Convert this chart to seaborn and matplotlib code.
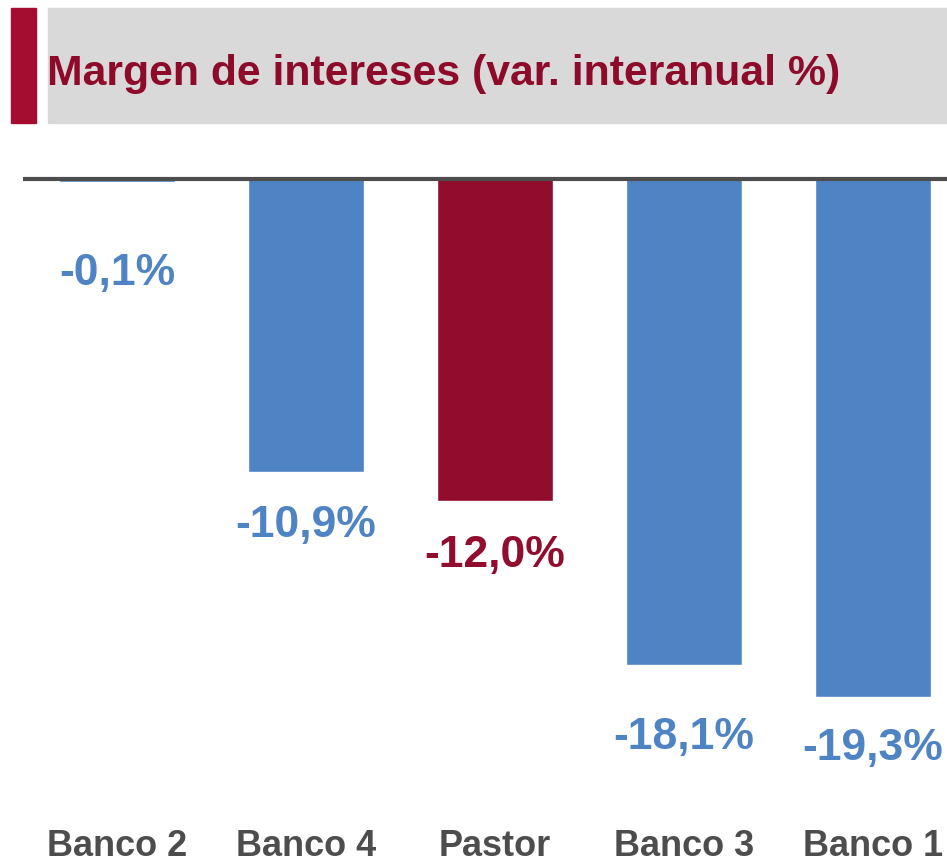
"""Margen de intereses (var. interanual %) - bar chart hanging from zero."""
import matplotlib
matplotlib.use('Agg')
import matplotlib.pyplot as plt
from matplotlib.patches import Rectangle
import seaborn as sns

# %%
# data
bancos = ['Banco 2', 'Banco 4', 'Pastor', 'Banco 3', 'Banco 1']
variacion = [-0.1, -10.9, -12.0, -18.1, -19.3]
etiquetas = ['-0,1%', '-10,9%', '-12,0%', '-18,1%', '-19,3%']

azul = '#4F84C4'
granate = '#920C2D'
colores = [granate if b == 'Pastor' else azul for b in bancos]
# distance of each value label below its bar end (points)
desfase = [66, 39, 39, 52, 37]

# %%
sns.set_style('white')
plt.rcParams['font.family'] = ['Liberation Sans', 'DejaVu Sans']

W, H = 947, 864
fig = plt.figure(figsize=(W / 100, H / 100), dpi=100)

# title band
fig.patches.append(Rectangle((11 / W, 1 - 123 / H), 25 / W, 115 / H,
                             transform=fig.transFigure, color='#A50D30', zorder=0))
fig.patches.append(Rectangle((48 / W, 1 - 123 / H), 899 / W, 115 / H,
                             transform=fig.transFigure, color='#D9D9D9', zorder=0))
fig.text(47 / W, 1 - 85 / H, 'Margen de intereses (var. interanual %)',
         fontsize=30.8, fontweight='bold', color='#8E0A2A', va='baseline', ha='left')

ax = fig.add_axes([22.5 / W, 1 - 800 / H, 945 / W, 630 / H])
sns.barplot(x=bancos, y=variacion, hue=bancos, palette=colores, width=0.61,
            legend=False, saturation=1, ax=ax)
ax.set_xlim(-0.5, 4.5)
ax.set_ylim(-23.13, 0.335)
ax.axhline(0, color='#4D4D4D', lw=3, solid_capstyle='round', zorder=5)

for i, (v, t, c, d) in enumerate(zip(variacion, etiquetas, colores, desfase)):
    ax.annotate(t, xy=(i, v), xytext=(0, -d), textcoords='offset points',
                ha='center', va='center', fontsize=32, fontweight='bold', color=c)

ax.set_xlabel('')
ax.set_ylabel('')
ax.set_yticks([])
ax.set_xticks(range(len(bancos)))
ax.set_xticklabels(bancos, fontsize=26, fontweight='bold', color='#4D4D4D')
ax.tick_params(axis='x', length=0, pad=21)
for s in ax.spines.values():
    s.set_visible(False)
ax.patch.set_alpha(0)

plt.savefig('out.png', dpi=100)
